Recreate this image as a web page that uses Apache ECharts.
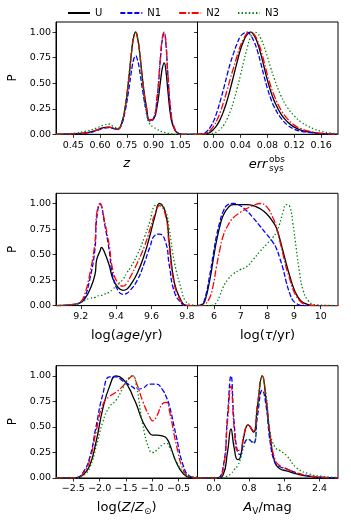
<!DOCTYPE html>
<html>
<head>
<meta charset="utf-8">
<title>P distributions</title>
<script src="https://cdn.jsdelivr.net/npm/echarts@6.0.0/dist/echarts.min.js"></script>
<style>
  body { margin: 0; background: #fff; }
  #my { width: 351px; height: 527px; }
</style>
</head>
<body>
<div id="my"></div>
<script>

// 数据: redshift z
var zX  = [0.353,0.45,0.52,0.58,0.62,0.65,0.68,0.70,0.72,0.74,0.76,0.78,0.79,0.80,0.81,0.82,0.84,0.86,0.88,0.90,0.92,0.94,0.95,0.96,0.97,0.98,1.00,1.02,1.04,1.07,1.147];
var zU  = [0,0.005,0.015,0.04,0.065,0.07,0.055,0.05,0.1,0.25,0.52,0.85,0.96,1.0,0.95,0.84,0.52,0.27,0.14,0.15,0.27,0.53,0.65,0.7,0.62,0.44,0.14,0.04,0.01,0,0];
var zN1 = [0,0.005,0.012,0.035,0.06,0.065,0.055,0.05,0.09,0.22,0.42,0.66,0.74,0.77,0.73,0.65,0.42,0.23,0.13,0.15,0.35,0.76,0.93,0.99,0.88,0.6,0.18,0.05,0.01,0,0];
var zN2 = [0,0.005,0.015,0.04,0.065,0.07,0.055,0.05,0.1,0.25,0.52,0.85,0.96,1.0,0.95,0.84,0.52,0.27,0.14,0.15,0.36,0.78,0.95,1.0,0.89,0.61,0.19,0.05,0.01,0,0];
var zN3 = [0,0.01,0.03,0.06,0.09,0.10,0.07,0.06,0.11,0.27,0.55,0.87,0.97,1.0,0.94,0.82,0.48,0.2,0.1,0.07,0.05,0.03,0.025,0.02,0.015,0.01,0.005,0,0,0,0];

// 数据: err_sys^obs
var errX  = [-0.024,-0.015,-0.01,-0.005,0,0.005,0.01,0.015,0.02,0.025,0.03,0.035,0.04,0.045,0.05,0.055,0.06,0.065,0.07,0.075,0.08,0.085,0.09,0.10,0.11,0.12,0.13,0.14,0.15,0.16,0.17,0.185];
var errU  = [0,0,0.005,0.02,0.05,0.09,0.15,0.23,0.33,0.45,0.58,0.71,0.83,0.92,0.98,1.0,0.97,0.9,0.79,0.66,0.53,0.42,0.33,0.2,0.12,0.07,0.04,0.025,0.015,0.008,0.004,0];
var errN1 = [0,0.01,0.03,0.07,0.13,0.22,0.33,0.45,0.58,0.7,0.8,0.89,0.96,0.99,1.0,0.97,0.91,0.82,0.7,0.57,0.45,0.35,0.27,0.16,0.09,0.05,0.03,0.02,0.012,0.006,0.003,0];
var errN2 = [0,0.005,0.015,0.04,0.08,0.14,0.22,0.32,0.43,0.55,0.66,0.77,0.87,0.94,0.99,1.0,0.98,0.92,0.83,0.71,0.58,0.47,0.38,0.24,0.15,0.09,0.055,0.033,0.02,0.01,0.005,0];
var errN3 = [0,0,0,0.005,0.01,0.025,0.05,0.09,0.15,0.23,0.33,0.45,0.58,0.72,0.85,0.95,1.0,0.99,0.94,0.86,0.76,0.65,0.55,0.38,0.26,0.18,0.12,0.08,0.05,0.03,0.015,0.005];

// 数据: log(age/yr)
var ageX  = [9.06,9.16,9.20,9.22,9.25,9.28,9.29,9.31,9.317,9.33,9.36,9.38,9.41,9.44,9.46,9.48,9.52,9.56,9.59,9.62,9.645,9.68,9.70,9.73,9.77,9.79,9.82,9.86];
var ageU  = [0,0.01,0.03,0.06,0.15,0.3,0.45,0.54,0.57,0.54,0.4,0.27,0.18,0.15,0.16,0.2,0.32,0.5,0.68,0.88,1.0,0.9,0.62,0.22,0.04,0.005,0,0];
var ageN1 = [0,0.01,0.03,0.07,0.25,0.55,0.85,0.99,0.98,0.85,0.55,0.3,0.15,0.11,0.12,0.15,0.25,0.42,0.57,0.69,0.7,0.62,0.4,0.13,0.02,0,0,0];
var ageN2 = [0,0.015,0.04,0.1,0.3,0.62,0.9,1.0,0.98,0.87,0.6,0.36,0.22,0.19,0.22,0.28,0.42,0.58,0.74,0.9,0.98,0.88,0.58,0.2,0.03,0,0,0];
var ageN3 = [0,0.01,0.03,0.05,0.07,0.08,0.09,0.1,0.1,0.11,0.13,0.16,0.21,0.26,0.32,0.37,0.5,0.67,0.82,0.98,0.99,0.92,0.75,0.42,0.15,0.05,0.01,0];

// 数据: log(tau/yr)
var tauX  = [5.38,5.53,5.65,5.84,5.97,6.09,6.22,6.34,6.53,6.72,6.97,7.22,7.47,7.72,7.97,8.21,8.34,8.46,8.59,8.71,8.84,8.96,9.09,9.21,9.34,9.53,9.78,10.65];
var tauU  = [0,0.005,0.04,0.25,0.45,0.63,0.78,0.88,0.96,0.99,0.99,0.99,0.98,0.95,0.9,0.82,0.76,0.66,0.53,0.41,0.29,0.19,0.11,0.06,0.03,0.01,0,0];
var tauN1 = [0,0.01,0.06,0.3,0.5,0.68,0.82,0.92,0.99,1.0,0.98,0.93,0.86,0.78,0.7,0.62,0.56,0.47,0.36,0.23,0.12,0.05,0.02,0.005,0,0,0,0];
var tauN2 = [0,0,0.01,0.08,0.2,0.38,0.55,0.68,0.79,0.86,0.91,0.95,0.98,1.0,0.97,0.86,0.77,0.64,0.5,0.37,0.26,0.16,0.09,0.05,0.02,0.005,0,0];
var tauN3 = [0,0,0,0,0.005,0.03,0.1,0.18,0.26,0.31,0.35,0.38,0.45,0.53,0.6,0.67,0.72,0.8,0.92,0.99,0.97,0.8,0.55,0.32,0.15,0.05,0.01,0];

// 数据: log(Z/Zsun)
var metX  = [-2.83,-2.45,-2.32,-2.19,-2.07,-1.94,-1.81,-1.69,-1.56,-1.43,-1.37,-1.30,-1.18,-1.05,-0.99,-0.92,-0.80,-0.73,-0.67,-0.54,-0.41,-0.29,-0.14];
var metU  = [0,0,0.03,0.12,0.35,0.68,0.9,1.0,0.97,0.87,0.8,0.72,0.55,0.44,0.42,0.42,0.41,0.39,0.33,0.15,0.04,0.005,0];
var metN1 = [0,0.005,0.05,0.2,0.5,0.82,0.99,0.99,0.95,0.91,0.89,0.87,0.88,0.92,0.92,0.92,0.86,0.79,0.7,0.4,0.12,0.02,0];
var metN2 = [0,0,0.04,0.17,0.45,0.72,0.8,0.84,0.9,0.98,1.0,0.93,0.75,0.6,0.56,0.6,0.73,0.74,0.65,0.32,0.08,0.01,0];
var metN3 = [0,0,0.02,0.1,0.3,0.55,0.7,0.76,0.88,0.99,1.0,0.9,0.52,0.27,0.25,0.27,0.33,0.34,0.3,0.16,0.06,0.02,0.01];

// 数据: A_V/mag
var avX  = [-0.37,0.06,0.21,0.31,0.39,0.46,0.54,0.60,0.68,0.78,0.90,0.99,1.10,1.19,1.28,1.39,1.50,1.65,1.88,2.17,2.48,2.82];
var avU  = [0,0,0.03,0.25,0.48,0.3,0.18,0.2,0.4,0.52,0.45,0.7,1.0,0.75,0.4,0.15,0.09,0.07,0.04,0.015,0.005,0];
var avN1 = [0,0,0.1,0.6,1.0,0.55,0.25,0.23,0.33,0.38,0.34,0.6,0.86,0.7,0.35,0.15,0.11,0.09,0.05,0.02,0.005,0];
var avN2 = [0,0,0.08,0.55,0.9,0.5,0.27,0.27,0.42,0.52,0.46,0.72,1.0,0.78,0.42,0.18,0.12,0.09,0.05,0.02,0.005,0];
var avN3 = [0,0,0,0.02,0.04,0.08,0.12,0.18,0.3,0.38,0.35,0.65,1.0,0.8,0.45,0.3,0.27,0.22,0.1,0.04,0.015,0.005];

// 刻度
var pTicks   = [0, 0.25, 0.5, 0.75, 1.0];
var zTicks   = [0.45, 0.60, 0.75, 0.90, 1.05];
var errTicks = [0, 0.04, 0.08, 0.12, 0.16];
var ageTicks = [9.2, 9.4, 9.6, 9.8];
var tauTicks = [6, 7, 8, 9, 10];
var metTicks = [-2.5, -2.0, -1.5, -1.0, -0.5];
var avTicks  = [0, 0.8, 1.6, 2.4];

var names  = ['U', 'N1', 'N2', 'N3'];
var colors = ['#000000', '#0000ff', '#ff0000', '#008000'];
var dashes = ['solid', [5, 2], [7, 2, 1.5, 2], [1.4, 2.2]];

var FONT = 'DejaVu Sans';

// 面板
var panels = [
	{ x: zX,   ys: [zU, zN1, zN2, zN3],         min: 0.353, max: 1.147, ticks: zTicks,   dec: 2 },
	{ x: errX, ys: [errU, errN1, errN2, errN3], min: -0.024, max: 0.185, ticks: errTicks, dec: 2 },
	{ x: ageX, ys: [ageU, ageN1, ageN2, ageN3], min: 9.06,  max: 9.86,  ticks: ageTicks, dec: 1 },
	{ x: tauX, ys: [tauU, tauN1, tauN2, tauN3], min: 5.38,  max: 10.65, ticks: tauTicks, dec: 0 },
	{ x: metX, ys: [metU, metN1, metN2, metN3], min: -2.83, max: -0.14, ticks: metTicks, dec: 1 },
	{ x: avX,  ys: [avU, avN1, avN2, avN3],     min: -0.37, max: 2.82,  ticks: avTicks,  dec: 1 }
];

var colLeft  = [56, 197.5];
var colWidth = [141.5, 140.5];
var rowTop   = [22, 193.3, 365.7];
var rowH     = 112.3;

function fmt(v, dec) {
	var s = v.toFixed(dec);
	return s.replace('-', '\u2212');
}

var grids = [], xAxes = [], yAxes = [], series = [];

panels.forEach(function(p, i) {
	var col = i % 2, row = Math.floor(i / 2);

	grids.push({
		left: colLeft[col], top: rowTop[row], width: colWidth[col], height: rowH,
		show: true, borderColor: '#000', borderWidth: 1, backgroundColor: 'transparent'
	});

	xAxes.push({
		type: 'value', gridIndex: i, min: p.min, max: p.max,
		axisLine: { show: true, onZero: false, lineStyle: { color: '#000', width: 1 } },
		axisTick: { show: true, customValues: p.ticks, length: 3.5, lineStyle: { color: '#000', width: 0.8 } },
		axisLabel: {
			customValues: p.ticks, margin: 6, color: '#000', fontSize: 9.5, fontFamily: FONT,
			formatter: (function(d) { return function(v) { return fmt(v, d); }; })(p.dec)
		},
		splitLine: { show: false }
	});

	yAxes.push({
		type: 'value', gridIndex: i, min: 0, max: 1.1,
		axisLine: { show: true, onZero: false, lineStyle: { color: '#000', width: 1 } },
		axisTick: { show: true, customValues: pTicks, length: 3.5, lineStyle: { color: '#000', width: 0.8 } },
		axisLabel: {
			show: col === 0, customValues: pTicks, margin: 5, color: '#000', fontSize: 9.5, fontFamily: FONT,
			formatter: function(v) { return v.toFixed(2); }
		},
		splitLine: { show: false }
	});

	for (var k = 0; k < 4; k++) {
		var pts = p.x.map(function(xv, j) { return [xv, p.ys[k][j]]; });
		series.push({
			name: names[k], type: 'line', xAxisIndex: i, yAxisIndex: i,
			data: pts, symbol: 'none', smooth: 0.5,
			color: colors[k],
			lineStyle: { color: colors[k], width: 1.3, type: dashes[k] },
			animation: false
		});
	}
});

// 坐标轴标题
var rowMid = [78, 249.5, 421.7];
var xTitleY = [164, 336, 508];

var graphics = [];
rowMid.forEach(function(y) {
	graphics.push({
		type: 'text', x: 13, y: y, rotation: Math.PI / 2,
		style: { text: 'P', fontSize: 12, fill: '#000', fontFamily: FONT, align: 'center', verticalAlign: 'middle' }
	});
});

function rich(text, x, y) {
	return {
		type: 'text', x: x, y: y,
		style: {
			text: text, align: 'center', verticalAlign: 'middle',
			rich: {
				n: { fontSize: 13, fill: '#000', fontFamily: FONT },
				i: { fontSize: 13, fill: '#000', fontFamily: FONT, fontStyle: 'italic' },
				s: { fontSize: 9, fill: '#000', fontFamily: FONT, padding: [8, 0, 0, 0] }
			}
		}
	};
}

graphics.push(rich('{i|z}', 126.7, xTitleY[0]));
graphics.push({
	type: 'text', x: 258, y: xTitleY[0] + 1,
	style: { text: 'err', fontSize: 13, fontStyle: 'italic', fill: '#000', fontFamily: FONT, align: 'center', verticalAlign: 'middle' }
});
graphics.push({
	type: 'text', x: 269, y: xTitleY[0] - 4,
	style: { text: 'obs', fontSize: 9, fill: '#000', fontFamily: FONT, align: 'left', verticalAlign: 'middle' }
});
graphics.push({
	type: 'text', x: 269, y: xTitleY[0] + 5,
	style: { text: 'sys', fontSize: 9, fill: '#000', fontFamily: FONT, align: 'left', verticalAlign: 'middle' }
});
graphics.push(rich('{n|log(}{i|age}{n|/yr)}', 126.7, xTitleY[1]));
graphics.push(rich('{n|log(}{i|\u03c4}{n|/yr)}', 267.5, xTitleY[1]));
graphics.push(rich('{n|log(}{i|Z}{n|/}{i|Z}{s|\u2299}{n|)}', 126.7, xTitleY[2]));
graphics.push(rich('{i|A}{s|V}{n|/mag}', 267.5, xTitleY[2]));

var myChart = echarts.init(document.getElementById('my'), null, { renderer: 'canvas' });

var option = {
	backgroundColor: '#fff',
	animation: false,
	legend: {
		data: names, top: 3, left: 62, itemWidth: 22, itemHeight: 10, itemGap: 17,
		itemStyle: { opacity: 0 },
		textStyle: { fontSize: 10, color: '#000', fontFamily: FONT }
	},
	grid: grids,
	xAxis: xAxes,
	yAxis: yAxes,
	series: series,
	graphic: graphics
};

myChart.setOption(option);

</script>
</body>
</html>
